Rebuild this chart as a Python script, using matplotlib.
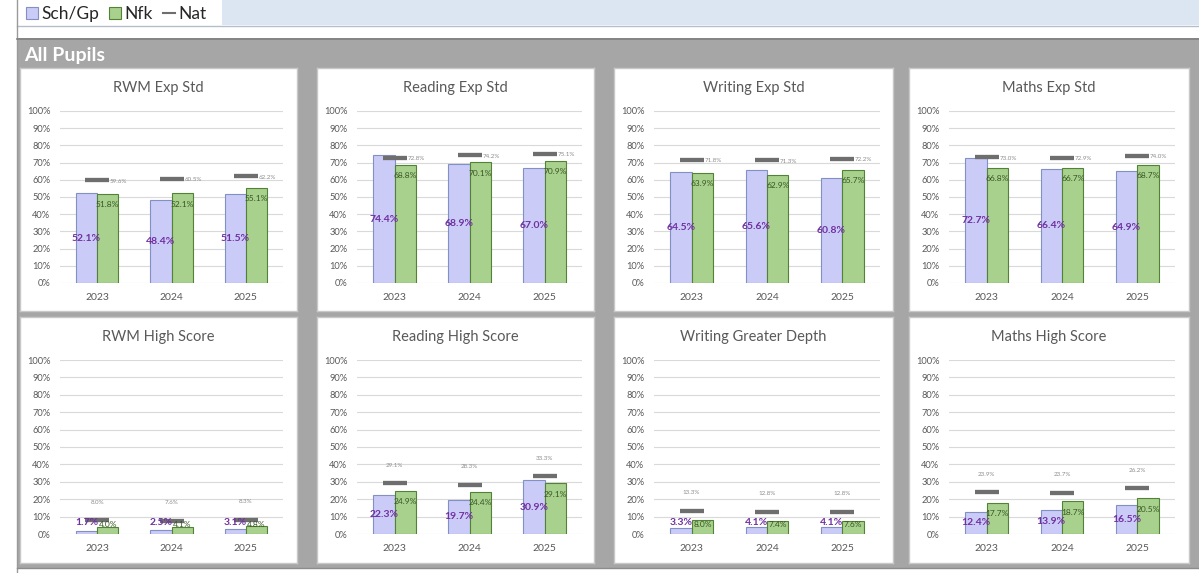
import matplotlib
matplotlib.use("Agg")
import matplotlib.pyplot as plt
from matplotlib.patches import Rectangle
from matplotlib.lines import Line2D

plt.rcParams['font.family'] = ['Lato', 'DejaVu Sans']

# ---------------- data ----------------
years = ["2023", "2024", "2025"]
titles = ["RWM Exp Std", "Reading Exp Std", "Writing Exp Std", "Maths Exp Std",
          "RWM High Score", "Reading High Score", "Writing Greater Depth", "Maths High Score"]
sch = [[52.1, 48.4, 51.5], [74.4, 68.9, 67.0], [64.5, 65.6, 60.8], [72.7, 66.4, 64.9],
       [1.7, 2.5, 3.1], [22.3, 19.7, 30.9], [3.3, 4.1, 4.1], [12.4, 13.9, 16.5]]
nfk = [[51.8, 52.1, 55.1], [68.8, 70.1, 70.9], [63.9, 62.9, 65.7], [66.8, 66.7, 68.7],
       [4.0, 4.1, 4.8], [24.9, 24.4, 29.1], [8.0, 7.4, 7.6], [17.7, 18.7, 20.5]]
nat = [[59.6, 60.5, 62.2], [72.8, 74.2, 75.1], [71.8, 71.3, 72.2], [73.0, 72.9, 74.0],
       [8.0, 7.6, 8.3], [29.1, 28.3, 33.3], [13.3, 12.8, 12.8], [23.9, 23.7, 26.2]]
yticks = list(range(0, 101, 10))
section_title = "All Pupils"
legend_labels = ["Sch/Gp", "Nfk", "Nat"]

# ---------------- style ----------------
SCH_FACE, SCH_EDGE = "#CBCBF8", "#8091C4"
NFK_FACE, NFK_EDGE = "#A9D18E", "#538135"
NAT_COL = "#6E6E6E"
TXT_GREY = "#595959"

W, H = 1199, 573
fig = plt.figure(figsize=(W / 100, H / 100), dpi=100)
fig.patch.set_facecolor("white")


def fbox(x0, y0, x1, y1):
    return [x0 / W, 1 - y1 / H, (x1 - x0) / W, (y1 - y0) / H]


# background decoration (pixel coordinates)
bg = fig.add_axes([0, 0, 1, 1])
bg.set_xlim(0, W)
bg.set_ylim(H, 0)
bg.axis("off")
bg.add_patch(Rectangle((222, 0), W - 222, 25, facecolor="#DCE6F2", edgecolor="none"))
bg.plot([17, W], [25.5, 25.5], color="#B4BECB", lw=1)
bg.plot([17, 17], [0, H], color="#9A9A9A", lw=1)
bg.add_patch(Rectangle((17, 38), W - 17, 530, facecolor="#A6A6A6", edgecolor="none"))
bg.plot([17, W], [38.5, 38.5], color="#7F7F7F", lw=1.2)
bg.plot([17, W], [568, 568], color="#8C8C8C", lw=1)
bg.text(24, 56, section_title, color="white", fontsize=14, fontweight="bold",
        ha="left", va="center")

# legend
handles = [Rectangle((0, 0), 1, 1, facecolor=SCH_FACE, edgecolor=SCH_EDGE, lw=0.8),
           Rectangle((0, 0), 1, 1, facecolor=NFK_FACE, edgecolor=NFK_EDGE, lw=0.8),
           Line2D([], [], color=NAT_COL, lw=1.5)]
fig.legend(handles, legend_labels, loc="center left", bbox_to_anchor=(26 / W, 1 - 14 / H),
           ncol=3, frameon=False, fontsize=12.5, handlelength=0.7, handleheight=0.7,
           handletextpad=0.2, columnspacing=0.55, borderpad=0, borderaxespad=0,
           labelcolor="#262626")

panel_x = [(20, 297), (317, 594), (614, 893), (909, 1189)]
plot_x = [(60, 283), (357, 582), (654, 880), (949, 1175)]
panel_y = [(68, 311), (317, 563)]
plot_y = [(111, 283), (360, 534)]

bw = 0.285
xs = list(range(len(years)))

for i, title in enumerate(titles):
    r, c = divmod(i, 4)
    px0, px1 = panel_x[c]
    py0, py1 = panel_y[r]
    pan = fig.add_axes(fbox(px0, py0, px1, py1))
    pan.set_facecolor("white")
    pan.set_xticks([])
    pan.set_yticks([])
    for s in pan.spines.values():
        s.set_color("#C8C8C8")
        s.set_linewidth(1.0)
    pan.text(0.5, 1 - 20 / (py1 - py0), title, transform=pan.transAxes, ha="center",
             va="center", fontsize=10.5, color=TXT_GREY)

    qx0, qx1 = plot_x[c]
    qy0, qy1 = plot_y[r]
    ax = fig.add_axes(fbox(qx0, qy0, qx1, qy1))
    ax.set_facecolor("none")
    ax.set_xlim(-0.5, 2.5)
    ax.set_ylim(0, 100)
    ax.set_yticks(yticks)
    ax.set_yticklabels([f"{t}%" for t in yticks], fontsize=6.7, color=TXT_GREY)
    ax.set_xticks(xs)
    ax.set_xticklabels(years, fontsize=7.5, color=TXT_GREY)
    ax.tick_params(axis="y", length=0, pad=7)
    ax.tick_params(axis="x", length=0, pad=7)
    ax.grid(axis="y", color="#D9D9D9", lw=0.8)
    ax.set_axisbelow(True)
    for s in ax.spines.values():
        s.set_visible(False)

    xs_s = [x - bw / 2 for x in xs]
    xs_n = [x + bw / 2 for x in xs]
    ax.bar(xs_s, sch[i], width=bw, color=SCH_FACE, edgecolor=SCH_EDGE, lw=0.8, zorder=2)
    ax.bar(xs_n, nfk[i], width=bw, color=NFK_FACE, edgecolor=NFK_EDGE, lw=0.8, zorder=2)
    ax.plot(xs, nat[i], linestyle="none", marker="_", markersize=17, mew=3.1,
            color=NAT_COL, zorder=3)

    exp = r == 0
    for x, v in zip(xs_s, sch[i]):
        ax.text(x, max(v / 2, 6.5), f"{v:.1f}%", ha="center", va="center", fontsize=7.5,
                fontweight="bold", color="#7030A0", zorder=4)
    for x, v in zip(xs_n, nfk[i]):
        ax.text(x, max(v - 6.2, 5.4), f"{v:.1f}%", ha="center", va="center", fontsize=6,
                color="#375623", zorder=4)
    for x, v in zip(xs, nat[i]):
        if exp:
            ax.text(x + 0.17, v - 0.6, f"{v:.1f}%", ha="left", va="center", fontsize=4.5,
                    color="#8C8C8C", zorder=4)
        else:
            ax.text(x, v + 10.3, f"{v:.1f}%", ha="center", va="center", fontsize=4.5,
                    color="#8C8C8C", zorder=4)

fig.savefig("out.png", dpi=100, facecolor="white")
